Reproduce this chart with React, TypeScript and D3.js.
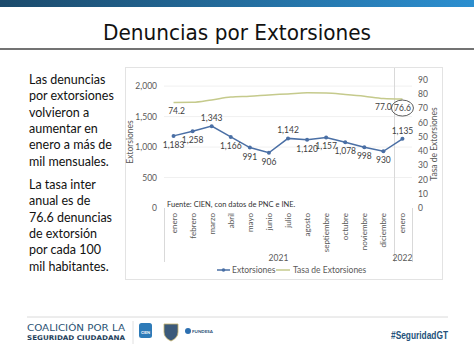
import React from "react";
import * as d3 from "d3";

const months = ["enero","febrero","marzo","abril","mayo","junio","julio","agosto","septiembre","octubre","noviembre","diciembre","enero"];
const years = [{ label: "2021", from: 0, to: 11 }, { label: "2022", from: 12, to: 12 }];
const extorsiones = [1183, 1258, 1343, 1166, 991, 906, 1142, 1120, 1157, 1078, 998, 930, 1135];
const tasa = [74.2, 74.3, 76.0, 78.0, 78.6, 79.5, 80.2, 81.0, 80.8, 79.8, 78.6, 77.0, 76.6];
const tasaLabelIdx = [0, 11, 12];
const aboveIdx = [2, 6, 12];
const leftTicks = [0, 500, 1000, 1500, 2000];
const rightTicks = [0, 10, 20, 30, 40, 50, 60, 70, 80, 90];
const para1 = ["Las denuncias", "por extorsiones", "volvieron a", "aumentar en", "enero a más de", "mil mensuales."];
const para2 = ["La tasa inter", "anual es de", "76.6 denuncias", "de extorsión", "por cada 100", "mil habitantes."];

const W = 474, H = 355;
const FONT = "Lato, 'Open Sans', sans-serif";

export default function App() {
  const x = d3.scaleBand<number>().domain(d3.range(months.length)).range([164, 412]);
  const cx = (i: number) => (x(i) as number) + x.bandwidth() / 2;
  const yL = d3.scaleLinear().domain([0, 2100]).range([208, 80]);
  const yR = d3.scaleLinear().domain([0, 90]).range([208, 80]);
  const fmt = d3.format(",");
  const lineL = d3.line<number>().x((_, i) => cx(i)).y((d) => yL(d));
  const lineR = d3.line<number>().x((_, i) => cx(i)).y((d) => yR(d)).curve(d3.curveMonotoneX);
  const blue = "#4a6fa5";
  const green = "#c5ca8c";
  const grid = "#e6e6e6";
  const axisCol = "#595959";

  return (
    <svg width={W} height={H} style={{ position: "absolute", left: 0, top: 0, background: "#fff" }}>
      <defs>
        <linearGradient id="topbar" x1="0" x2="1" y1="0" y2="0">
          <stop offset="0" stopColor="#1b4a6b" />
          <stop offset="1" stopColor="#2c8fd0" />
        </linearGradient>
      </defs>
      <rect x={0} y={0} width={W} height={7} fill="url(#topbar)" />
      <text x={237} y={40} textAnchor="middle" fontFamily="'DejaVu Sans', sans-serif" fontSize={21} fill="#111" textLength={268} lengthAdjust="spacingAndGlyphs">Denuncias por Extorsiones</text>
      <line x1={0} x2={W} y1={49} y2={49} stroke="#444" strokeWidth={1.5} />

      {para1.map((t, i) => (
        <text key={"p1" + i} x={29} y={84 + i * 16.3} fontFamily={FONT} fontSize={12.5} fill="#111">{t}</text>
      ))}
      {para2.map((t, i) => (
        <text key={"p2" + i} x={29} y={189 + i * 16.3} fontFamily={FONT} fontSize={12.5} fill="#111">{t}</text>
      ))}

      {/* chart box */}
      <rect x={125.5} y={67.5} width={317} height={212} fill="#fff" stroke="#e3e3e3" />

      {/* gridlines */}
      {leftTicks.slice(1).map((t) => (
        <line key={"g" + t} x1={164} x2={412} y1={yL(t)} y2={yL(t)} stroke={grid} strokeWidth={0.6} />
      ))}
      {/* separators */}
      <line x1={394.5} x2={394.5} y1={68} y2={262} stroke="#d9d9d9" />
      <line x1={164.5} x2={164.5} y1={208} y2={262} stroke="#d9d9d9" />
      <line x1={412.5} x2={412.5} y1={208} y2={262} stroke="#d9d9d9" />

      {/* left axis */}
      {leftTicks.map((t) => (
        <text key={"l" + t} x={157} y={yL(t) + 3} textAnchor="end" fontFamily={FONT} fontSize={8.5} fill={axisCol}>{fmt(t)}</text>
      ))}
      <text transform={`translate(133,142) rotate(-90)`} textAnchor="middle" fontFamily={FONT} fontSize={8.5} fill={axisCol}>Extorsiones</text>
      {/* right axis */}
      {rightTicks.map((t) => (
        <text key={"r" + t} x={418} y={yR(t) + 3} fontFamily={FONT} fontSize={8.5} fill={axisCol}>{t}</text>
      ))}
      <text transform={`translate(437,144) rotate(-90)`} textAnchor="middle" fontFamily={FONT} fontSize={8.5} fill={axisCol}>Tasa de Extorsiones</text>

      {/* x labels */}
      {months.map((m, i) => (
        <text key={"m" + i} transform={`translate(${cx(i) + 3},213) rotate(-90)`} textAnchor="end" fontFamily={FONT} fontSize={8} fill={axisCol}>{m}</text>
      ))}
      {years.map((yv) => (
        <text key={yv.label} x={(cx(yv.from) + cx(yv.to)) / 2} y={261} textAnchor="middle" fontFamily={FONT} fontSize={8.5} fill={axisCol}>{yv.label}</text>
      ))}

      {/* source */}
      <text x={167} y={207} fontFamily={FONT} fontSize={7.5} fill="#333">Fuente: CIEN, con datos de PNC e INE.</text>

      {/* lines */}
      <path d={lineR(tasa) as string} fill="none" stroke={green} strokeWidth={1.5} />
      <path d={lineL(extorsiones) as string} fill="none" stroke={blue} strokeWidth={1.5} />
      {extorsiones.map((v, i) => (
        <circle key={"c" + i} cx={cx(i)} cy={yL(v)} r={2} fill={blue} />
      ))}
      {extorsiones.map((v, i) => {
        const above = aboveIdx.includes(i);
        return (
          <text key={"e" + i} x={cx(i)} y={above ? yL(v) - 5 : yL(v) + 12} textAnchor="middle" fontFamily={FONT} fontSize={8.5} fill="#404040">{fmt(v)}</text>
        );
      })}
      {tasaLabelIdx.map((i) => (
        <text key={"t" + i} x={cx(i) + (i === 0 ? 3 : 0)} y={yR(tasa[i]) + 12} textAnchor="middle" fontFamily={FONT} fontSize={8.5} fill="#404040">{tasa[i].toFixed(1)}</text>
      ))}
      <ellipse cx={cx(12)} cy={yR(tasa[12]) + 9} rx={11} ry={8} fill="none" stroke="#333" strokeWidth={0.8} />

      {/* legend */}
      <line x1={217} x2={230} y1={270} y2={270} stroke={blue} strokeWidth={1.5} />
      <circle cx={223.5} cy={270} r={1.8} fill={blue} />
      <text x={232} y={273} fontFamily={FONT} fontSize={8.5} fill={axisCol}>Extorsiones</text>
      <line x1={276} x2={290} y1={270} y2={270} stroke={green} strokeWidth={1.5} />
      <text x={293} y={273} fontFamily={FONT} fontSize={8.5} fill={axisCol}>Tasa de Extorsiones</text>

      {/* footer */}
      <line x1={27} x2={448} y1={317} y2={317} stroke="#d0d0d0" strokeWidth={0.8} />
      <text x={27} y={331} fontFamily="'DejaVu Sans', sans-serif" fontSize={9.5} fill="#2a5273" textLength={98} lengthAdjust="spacingAndGlyphs">COALICIÓN POR LA</text>
      <text x={27} y={340} fontFamily="'DejaVu Sans', sans-serif" fontWeight="bold" fontSize={6.5} fill="#1f3f5c" textLength={98} lengthAdjust="spacingAndGlyphs">SEGURIDAD CIUDADANA</text>
      <line x1={133} x2={133} y1={321} y2={344} stroke="#e0e0e0" />
      <rect x={139} y={323} width={13} height={15} rx={2.5} fill="#2e7bb8" />
      <text x={145.5} y={334} textAnchor="middle" fontFamily={FONT} fontSize={4} fontWeight="bold" fill="#fff">CIEN</text>
      <path d="M164,324 L178,324 L178,332 Q178,338 171,341 Q164,338 164,332 Z" fill="#3c5a7a" stroke="#c8b46a" strokeWidth={0.8} />
      <circle cx={188} cy={331} r={3} fill="#2c6fb0" />
      <text x={192} y={333} fontFamily={FONT} fontSize={4.5} fontWeight="bold" fill="#2c4f78">FUNDESA</text>
      <text x={448} y={339} textAnchor="end" fontFamily="'Liberation Sans', sans-serif" fontWeight="bold" fontSize={10} fill="#24527a" textLength={57} lengthAdjust="spacingAndGlyphs">#SeguridadGT</text>
    </svg>
  );
}
